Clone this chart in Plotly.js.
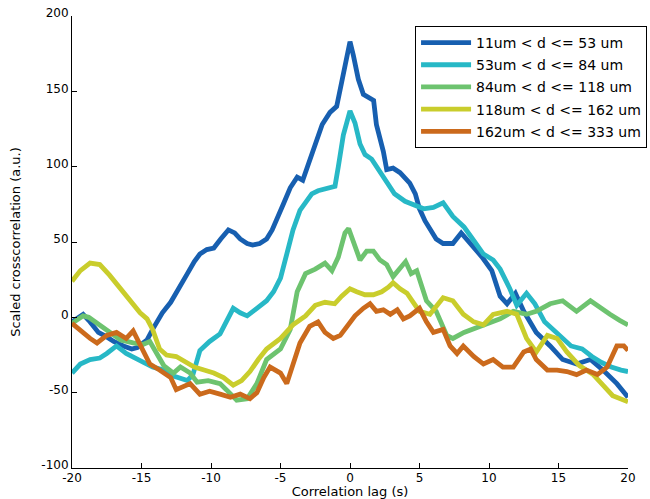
<!DOCTYPE html>
<html>
<head>
<meta charset="utf-8">
<script src="https://cdn.plot.ly/plotly-3.0.1.min.js"></script>
<style>html,body{margin:0;padding:0;background:#fff;}</style>
</head>
<body>
<div id="chart" style="width:650px;height:499px;"></div>
<script>
// Series names
const seriesNames = [
  "11um < d <= 53 um",
  "53um < d <= 84 um",
  "84um < d <= 118 um",
  "118um < d <= 162 um",
  "162um < d <= 333 um"
];
const seriesColors = ["#175fb0", "#27b8c6", "#6dc36f", "#c9cd2c", "#cb6a1c"];

// 11um < d <= 53 um
const lag1 = [-20, -19.6, -19.2, -18.8, -18.5, -18.1, -17.5, -17.0, -16.3, -15.7, -15.3, -14.9, -14.6, -14.2, -13.5, -12.9, -12.2, -11.7, -11.2, -10.8, -10.3, -9.8, -9.3, -8.75, -8.3, -7.9, -7.4, -7.0, -6.5, -6.0, -5.6, -5.3, -4.8, -4.3, -3.8, -3.4, -2.9, -2.5, -2.0, -1.44, -0.96, -0.6, -0.24, 0, 0.24, 0.6, 0.96, 1.44, 1.7, 1.9, 2.4, 2.64, 3.1, 3.6, 4.0, 4.3, 4.7, 5.0, 5.4, 5.8, 6.2, 6.7, 7.4, 8.0, 8.4, 8.75, 9.5, 10.2, 10.8, 11.3, 11.9, 12.5, 13.4, 14.4, 15.3, 16.3, 17.3, 18.2, 19.2, 20];
const val1 = [-3, 0, 2, -2, -6, -10, -13, -16, -19, -21, -20, -17, -15, -8, 3, 10, 22, 29, 37, 42, 45, 46, 52, 58, 56, 52, 49, 48, 49, 52, 58, 65, 75, 86, 93, 91, 104, 115, 128, 136, 140, 156, 174, 183, 174, 158, 148, 145, 144, 128, 110, 98, 99, 96, 92, 89, 82, 72, 64, 58, 52, 49, 49, 56, 52, 48, 40, 31, 14, 9, 16, 4, -10, -19, -28, -31, -28, -35, -44, -53];

// 53um < d <= 84 um
const lag2 = [-20, -19.4, -18.7, -18, -17.5, -16.8, -16.1, -15.3, -14.6, -14.2, -13.4, -12.7, -11.7, -11.3, -10.8, -10.1, -9.35, -8.8, -8.4, -7.9, -7.4, -6.7, -6.0, -5.5, -5.0, -4.55, -4.1, -3.6, -3.1, -2.75, -2.3, -1.8, -1.08, -0.84, -0.48, 0, 0.36, 0.72, 1.08, 1.56, 2.04, 2.64, 3.2, 3.96, 4.55, 5.3, 6.0, 6.7, 7.4, 8.2, 8.9, 9.6, 10.3, 10.8, 11.5, 12.0, 12.7, 13.3, 14.0, 15.0, 15.9, 16.7, 17.4, 18.1, 18.8, 19.5, 20];
const val2 = [-37, -31, -28, -27, -24, -19, -24, -28, -31, -33, -35, -39, -42, -38, -22, -16, -11, -2, 6, 3, 1, 6, 11, 17, 26, 42, 58, 71, 77, 82, 84, 85, 87, 100, 121, 137, 129, 115, 108, 105, 98, 89, 82, 77, 75, 72, 73, 76, 67, 60, 51, 42, 38, 32, 19, 8, 16, 9, -3, -12, -19, -21, -26, -30, -33, -35, -36];

// 84um < d <= 118 um
const lag3 = [-20, -19.6, -19.2, -18.8, -18.5, -18, -17.5, -17, -16.5, -15.6, -14.9, -14.4, -13.9, -13.4, -12.7, -12.2, -11.5, -11.0, -10.2, -9.35, -8.9, -8.15, -7.4, -6.7, -6.0, -5.0, -4.3, -3.8, -3.2, -2.5, -1.8, -1.3, -0.84, -0.36, -0.1, 0.24, 0.72, 1.2, 1.68, 2.16, 2.64, 3.1, 3.6, 4.0, 4.4, 4.8, 5.5, 6.2, 6.96, 7.4, 8.2, 9.1, 9.8, 10.8, 11.75, 12.7, 13.4, 14.4, 15.3, 16.3, 17.3, 18, 18.7, 19.4, 20];
const val3 = [-4, -1, 1, 0, -2, -5, -9, -12, -15, -17, -18, -16, -24, -32, -37, -33, -37, -43, -42, -44, -48, -55, -54, -44, -28, -21, -8, 17, 29, 32, 36, 31, 40, 56, 59, 50, 38, 44, 44, 38, 35, 27, 33, 37, 29, 31, 11, 4, -12, -14, -10, -7, -5, -1, 4, 2, 4, 9, 11, 4, 11, 6, 2, -2, -5];

// 118um < d <= 162 um
const lag4 = [-20, -19.4, -18.7, -18, -17.3, -16.5, -15.8, -15.1, -14.6, -14.2, -13.7, -13.2, -12.5, -11.75, -11.2, -10.5, -9.8, -9.1, -8.4, -7.8, -7.2, -6.6, -6.0, -5.0, -4.1, -3.2, -2.5, -1.8, -1.1, -0.6, 0, 0.48, 1.08, 1.68, 2.28, 2.76, 3.1, 3.6, 4.1, 4.55, 5.0, 5.75, 6.7, 7.4, 8.15, 8.9, 9.6, 10.3, 11.3, 12.0, 12.7, 13.4, 14.2, 14.9, 15.6, 16.5, 17.5, 18.2, 18.9, 20];
const val4 = [24, 31, 36, 35, 28, 19, 10, 3, -1, -8, -21, -25, -26, -30, -33, -35, -37, -40, -45, -42, -36, -28, -21, -14, -5, 1, 8, 10, 9, 14, 19, 17, 15, 15, 17, 20, 23, 19, 16, 10, 4, 2, 13, 11, 2, -3, -5, 2, 4, 2, -14, -23, -12, -14, -23, -32, -38, -45, -52, -56];

// 162um < d <= 333 um
const lag5 = [-20, -19.4, -18.7, -18.2, -17.5, -16.8, -16.1, -15.6, -14.9, -14.4, -13.7, -12.9, -12.5, -11.5, -10.8, -10.1, -9.35, -8.6, -7.9, -7.2, -6.7, -6.2, -5.75, -5.0, -4.55, -4.1, -3.6, -2.9, -2.3, -1.8, -1.2, -0.7, -0.24, 0.36, 0.96, 1.44, 1.9, 2.4, 2.9, 3.4, 3.84, 4.3, 5.0, 5.5, 6.0, 6.7, 7.2, 7.7, 8.15, 8.9, 9.6, 10.3, 11.0, 11.75, 12.5, 13.0, 13.4, 14.2, 14.9, 15.6, 16.3, 17.0, 17.8, 18.5, 19.2, 19.7, 20];
const val5 = [-4, -9, -14, -17, -12, -10, -14, -9, -22, -31, -35, -40, -48, -44, -51, -49, -51, -53, -51, -54, -50, -40, -33, -37, -44, -31, -17, -6, -3, -10, -14, -12, -6, 1, 6, 9, 4, 5, 2, 5, -1, 1, 6, -3, -10, -8, -19, -24, -19, -26, -31, -28, -33, -33, -23, -21, -28, -35, -35, -36, -38, -35, -38, -33, -19, -19, -22];

const xTicks = [-20, -15, -10, -5, 0, 5, 10, 15, 20];
const yTicks = [-100, -50, 0, 50, 100, 150, 200];

const lags = [lag1, lag2, lag3, lag4, lag5];
const vals = [val1, val2, val3, val4, val5];

const FONT = "DejaVu Sans, Liberation Sans, Arial, sans-serif";

const traces = seriesNames.map((name, i) => ({
  type: "scatter",
  mode: "lines",
  name: name,
  x: lags[i],
  y: vals[i],
  legendgroup: "g" + i,
  line: { color: seriesColors[i], width: 4.8 }
}));

const layout = {
  width: 650,
  height: 499,
  margin: { l: 72, r: 22, t: 16, b: 31, pad: 0, autoexpand: false },
  paper_bgcolor: "#ffffff",
  plot_bgcolor: "#ffffff",
  font: { family: FONT, size: 12, color: "#000" },
  showlegend: true,
  legend: {
    x: 0.617, y: 0.978, xanchor: "left", yanchor: "top",
    bgcolor: "#ffffff", bordercolor: "#000", borderwidth: 1,
    font: { family: FONT, size: 14, color: "#000" },
    traceorder: "grouped", tracegroupgap: 1, itemwidth: 50
  },
  xaxis: {
    range: [-20, 20],
    tickvals: xTicks,
    ticktext: xTicks.map(String),
    ticks: "inside", ticklen: 5, tickcolor: "#000", tickwidth: 1,
    showline: true, linecolor: "#000", linewidth: 1,
    showgrid: false, zeroline: false, mirror: false,
    ticklabelstandoff: -1,
    tickfont: { family: FONT, size: 12, color: "#000" },
    title: { text: "Correlation lag (s)", font: { family: FONT, size: 13, color: "#000" }, standoff: 1 }
  },
  yaxis: {
    range: [-100, 200],
    tickvals: yTicks,
    ticktext: yTicks.map(String),
    ticks: "inside", ticklen: 5, tickcolor: "#000", tickwidth: 1,
    showline: true, linecolor: "#000", linewidth: 1,
    showgrid: false, zeroline: false, mirror: false,
    ticklabelshift: -3,
    tickfont: { family: FONT, size: 12, color: "#000" },
    title: { text: "Scaled crosscorrelation (a.u.)", font: { family: FONT, size: 13, color: "#000" }, standoff: 17 }
  }
};

Plotly.newPlot("chart", traces, layout, { displayModeBar: false, staticPlot: true });
</script>
</body>
</html>
